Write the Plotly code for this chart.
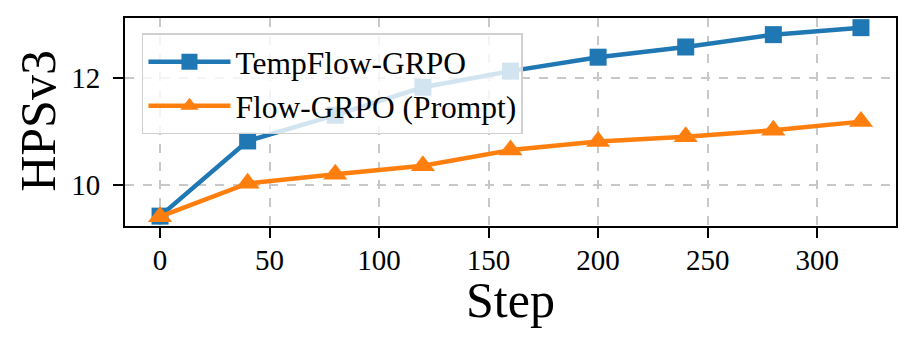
import plotly.graph_objects as go

steps = [0, 40, 80, 120, 160, 200, 240, 280, 320]
tempflow_grpo = [9.42, 10.82, 11.30, 11.82, 12.12, 12.38, 12.57, 12.80, 12.93]
flow_grpo_prompt = [9.41, 10.03, 10.20, 10.36, 10.65, 10.81, 10.90, 11.02, 11.18]

BLUE = "#1f77b4"
ORANGE = "#ff7f0e"
FONT = "Liberation Serif"

fig = go.Figure()
fig.add_trace(
    go.Scatter(
        x=steps,
        y=tempflow_grpo,
        name="TempFlow-GRPO",
        mode="lines+markers",
        line=dict(color=BLUE, width=4.5),
        marker=dict(symbol="square", size=17, color=BLUE),
        legendgroup="a",
    )
)
fig.add_trace(
    go.Scatter(
        x=steps,
        y=flow_grpo_prompt,
        name="Flow-GRPO (Prompt)",
        mode="lines+markers",
        line=dict(color=ORANGE, width=4.5),
        marker=dict(symbol="triangle-up", size=21, color=ORANGE),
        legendgroup="b",
    )
)

axis_style = dict(
    showline=True,
    linecolor="black",
    linewidth=2,
    mirror=True,
    ticks="outside",
    ticklen=10,
    tickwidth=2,
    tickcolor="black",
    showgrid=True,
    gridcolor="#c8c8c8",
    gridwidth=1.5,
    griddash="dash",
    zeroline=False,
    automargin=False,
    tickfont=dict(family=FONT, size=29, color="black"),
)

fig.update_xaxes(**axis_style, range=[-16, 336], tick0=0, dtick=50, ticklabelstandoff=-3)
fig.update_yaxes(**axis_style, range=[9.236, 13.11], tick0=0, dtick=2, ticklabelstandoff=7)

# axis titles as annotations so they can be placed exactly
title_font = dict(family=FONT, size=50, color="black")
fig.add_annotation(
    text="Step", xref="paper", yref="paper", x=0.5, y=-0.355,
    xanchor="center", yanchor="middle", showarrow=False, font=title_font,
)
fig.add_annotation(
    text="HPSv3", xref="paper", yref="paper", x=-0.113, y=0.505,
    xanchor="center", yanchor="middle", textangle=-90, showarrow=False,
    font=title_font,
)

# the page body has an 8px margin, so the figure is sized to the remaining area
fig.update_layout(
    width=898,
    height=333,
    margin=dict(l=117, r=10, t=10, b=115),
    plot_bgcolor="white",
    paper_bgcolor="white",
    font=dict(family=FONT, color="black"),
    legend=dict(
        x=0.022,
        y=0.926,
        xanchor="left",
        yanchor="top",
        bgcolor="rgba(255,255,255,0.8)",
        bordercolor="#d0d0d0",
        borderwidth=1.5,
        font=dict(family=FONT, size=31.5, color="black"),
        tracegroupgap=0,
        itemwidth=82,
    ),
)

fig.write_html("out.html")
